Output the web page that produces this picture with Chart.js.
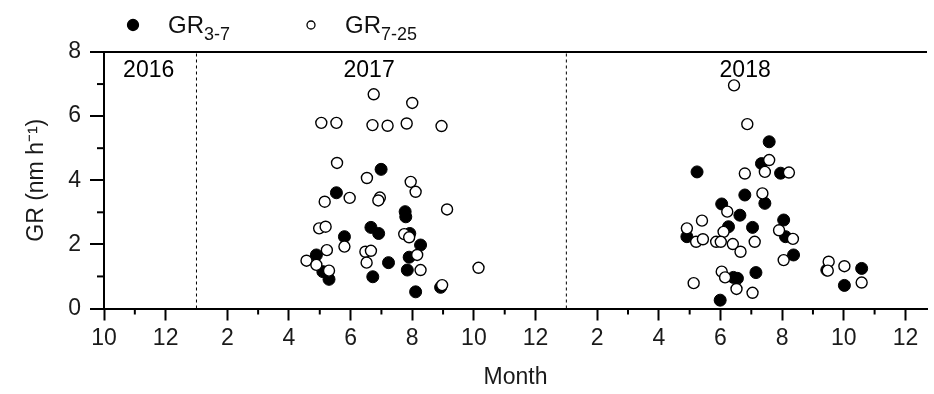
<!DOCTYPE html>
<html>
<head>
<meta charset="utf-8">
<script src="https://cdn.jsdelivr.net/npm/chart.js@4.4.0/dist/chart.umd.min.js"></script>
<style>
  body { margin: 0; background: #fff; }
  #wrap { width: 934px; height: 394px; }
</style>
</head>
<body>
<div id="wrap"><canvas id="gr" width="934" height="394"></canvas></div>
<script>
// months run on one continuous axis: Oct 2016 = 10, Feb 2017 = 14, Feb 2018 = 26
const years = ['2016', '2017', '2018'];
const yearBreaks = [13, 25];
const monthTicks = [10, 12, 14, 16, 18, 20, 22, 24, 26, 28, 30, 32, 34, 36];
const grTicks = [0, 2, 4, 6, 8];
const seriesNames = ['GR', 'GR'];
const seriesSubs = ['3-7', '7-25'];

const gr37Month = [17.54, 18.99, 18.66, 18.91, 17.80, 16.89, 17.10, 17.30, 18.72, 19.23,
  19.77, 19.79, 19.92, 20.27, 19.90, 19.84, 20.11, 20.92,
  31.58, 29.24, 31.33, 31.95, 30.79, 31.44, 30.04, 30.63, 28.91, 30.26,
  31.04, 30.42, 30.55, 31.15, 29.99, 32.05, 32.11, 32.37, 33.45, 34.58, 34.02];
const gr37Value = [3.61, 4.34, 2.53, 2.34, 2.24, 1.67, 1.15, 0.91, 0.99, 1.43,
  3.02, 2.86, 2.34, 1.98, 1.60, 1.20, 0.52, 0.66,
  5.20, 4.26, 4.52, 4.22, 3.54, 3.28, 3.26, 2.91, 2.24, 2.55,
  2.53, 0.97, 0.94, 1.12, 0.26, 2.76, 2.24, 1.67, 1.20, 1.25, 0.72];

const gr725Month = [18.75, 17.05, 17.54, 18.71, 19.20, 17.56, 18.53, 17.97, 18.95, 18.90, 17.16,
  20.00, 19.82, 20.95, 19.95, 20.11, 16.98, 17.19, 17.80, 17.23, 16.57, 16.89, 17.30,
  18.48, 18.66, 18.52, 21.13, 19.74, 19.90, 20.16, 20.27, 22.15, 20.97,
  30.44, 30.87, 31.58, 31.44, 30.79, 31.36, 30.22, 29.40, 28.91, 29.21,
  29.43, 30.10, 31.11, 29.86, 30.01, 30.40, 30.65, 29.13, 30.04, 30.15,
  30.52, 31.04, 31.90, 32.35, 32.05, 33.51, 33.48, 34.02, 34.58, 32.22];
const gr725Value = [6.68, 5.79, 5.79, 5.72, 5.70, 4.54, 4.07, 3.45, 3.46, 3.37, 3.33,
  6.41, 5.77, 5.69, 3.95, 3.64, 2.50, 2.55, 1.93, 1.82, 1.49, 1.36, 1.18,
  1.77, 1.80, 1.43, 3.09, 2.32, 2.22, 1.67, 1.20, 1.27, 0.73,
  6.96, 5.75, 4.63, 4.26, 4.21, 3.59, 3.02, 2.74, 2.50, 2.08,
  2.16, 2.39, 2.08, 2.08, 2.08, 2.01, 1.77, 0.79, 1.15, 0.97,
  0.61, 0.49, 2.44, 2.17, 1.51, 1.46, 1.18, 1.32, 0.81, 4.24];

const FONT = "'Liberation Sans', Arial, sans-serif";

function toPoints(xs, ys) {
  return xs.map((x, i) => ({ x: x, y: ys[i] }));
}

// year boundaries as dashed lines
const breakSets = yearBreaks.map(b => ({
  type: 'line',
  data: [{ x: b, y: grTicks[0] }, { x: b, y: grTicks[grTicks.length - 1] }],
  showLine: true,
  borderColor: '#000',
  borderWidth: 1,
  borderDash: [3, 3],
  pointRadius: 0,
  order: 5
}));

// minor ticks, year names and the legend with subscripts
const extras = {
  id: 'extras',
  afterDraw(chart) {
    const ctx = chart.ctx;
    const xs = chart.scales.x, ys = chart.scales.y;
    const area = chart.chartArea;
    ctx.save();
    ctx.strokeStyle = '#000';
    ctx.lineWidth = 2;
    for (let m = monthTicks[0] + 1; m < monthTicks[monthTicks.length - 1]; m += 2) {
      if (yearBreaks.includes(m)) continue;
      const px = xs.getPixelForValue(m);
      ctx.beginPath();
      ctx.moveTo(px, area.bottom);
      ctx.lineTo(px, area.bottom + 6);
      ctx.stroke();
    }
    for (let v = 1; v < 8; v += 2) {
      const py = ys.getPixelForValue(v);
      ctx.beginPath();
      ctx.moveTo(area.left - 7, py);
      ctx.lineTo(area.left, py);
      ctx.stroke();
    }

    // year labels
    const yearAt = [11.45, 18.6, 30.8];
    ctx.fillStyle = '#000';
    ctx.textAlign = 'center';
    ctx.textBaseline = 'middle';
    ctx.font = '23px ' + FONT;
    years.forEach((y, i) => {
      ctx.fillText(y, xs.getPixelForValue(yearAt[i]), ys.getPixelForValue(7.42));
    });

    // legend
    const legendX = [133, 311];
    const textX = [168, 345];
    chart.data.datasets.slice(0, 2).forEach((ds, i) => {
      ctx.beginPath();
      ctx.arc(legendX[i], 25, i === 0 ? 5.5 : 4, 0, Math.PI * 2);
      ctx.fillStyle = ds.backgroundColor;
      ctx.fill();
      ctx.lineWidth = 1.3;
      ctx.strokeStyle = '#000';
      ctx.stroke();
      ctx.fillStyle = '#111';
      ctx.textAlign = 'left';
      ctx.textBaseline = 'alphabetic';
      ctx.font = '24px ' + FONT;
      ctx.fillText(seriesNames[i], textX[i], 33);
      const w = ctx.measureText(seriesNames[i]).width;
      ctx.font = '18px ' + FONT;
      ctx.fillText(seriesSubs[i], textX[i] + w, 40);
    });
    ctx.restore();
  }
};

new Chart(document.getElementById('gr'), {
  type: 'scatter',
  data: {
    datasets: [
      {
        label: 'GR3-7',
        data: toPoints(gr37Month, gr37Value),
        backgroundColor: '#000',
        borderColor: '#000',
        borderWidth: 1,
        pointRadius: 6,
        order: 2
      },
      {
        label: 'GR7-25',
        data: toPoints(gr725Month, gr725Value),
        backgroundColor: '#fff',
        borderColor: '#000',
        borderWidth: 1.4,
        pointRadius: 5.5,
        order: 1
      },
      ...breakSets
    ]
  },
  options: {
    responsive: false,
    animation: false,
    layout: { padding: { top: 52, right: 2, left: 0, bottom: 0 } },
    plugins: {
      legend: { display: false },
      tooltip: { enabled: false }
    },
    scales: {
      x: {
        type: 'linear',
        min: 10,
        max: 36.7,
        afterBuildTicks: s => { s.ticks = monthTicks.map(v => ({ value: v })); },
        afterFit: s => { s.height = 85.5; },
        border: { color: '#000', width: 2 },
        grid: { drawOnChartArea: false, tickLength: 12, tickColor: '#000', tickWidth: 2 },
        ticks: {
          color: '#1a1a1a',
          padding: 4,
          maxRotation: 0,
          font: { family: FONT, size: 23 },
          callback: v => String(((v - 1) % 12) + 1)
        },
        title: {
          display: true,
          text: 'Month',
          color: '#1a1a1a',
          font: { family: FONT, size: 23 },
          padding: { top: 0, bottom: 3 }
        }
      },
      y: {
        min: 0,
        max: 8,
        afterBuildTicks: s => { s.ticks = grTicks.map(v => ({ value: v })); },
        afterFit: s => { s.width = 104; },
        border: { color: '#000', width: 2 },
        grid: {
          tickLength: 14,
          tickColor: '#000',
          tickWidth: 2,
          lineWidth: 2,
          color: c => (c.tick && c.tick.value === 8 ? '#000' : 'rgba(0,0,0,0)')
        },
        ticks: {
          color: '#1a1a1a',
          padding: 9,
          font: { family: FONT, size: 23 }
        },
        title: {
          display: true,
          text: 'GR (nm h\u207B\u00B9)',
          color: '#1a1a1a',
          font: { family: FONT, size: 23 },
          padding: { top: 23, bottom: 0 }
        }
      }
    }
  },
  plugins: [extras]
});
</script>
</body>
</html>
